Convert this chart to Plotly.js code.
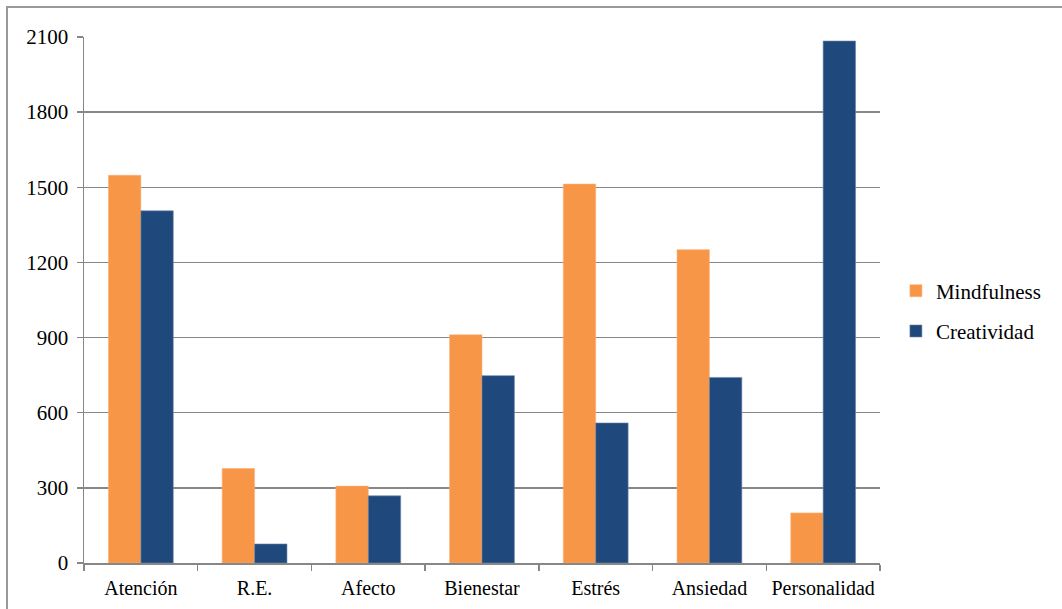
<!DOCTYPE html>
<html>
<head>
<meta charset="utf-8">
<script src="https://cdn.plot.ly/plotly-3.0.1.min.js"></script>
<style>
html,body{margin:0;padding:0;background:#fff;overflow:hidden;}
#chart{width:1062px;height:609px;}
#frame{position:absolute;left:6px;top:6px;width:2000px;height:2000px;border-top:2px solid #9a9a9a;border-left:2px solid #9a9a9a;pointer-events:none;}
</style>
</head>
<body>
<div id="chart"></div>
<div id="frame"></div>
<script>
const categories = ["Atención", "R.E.", "Afecto", "Bienestar", "Estrés", "Ansiedad", "Personalidad"];
const mindfulness = [1548, 377, 307, 911, 1513, 1251, 200];
const creatividad = [1406, 76, 268, 748, 559, 741, 2084];
const yTicks = [0, 300, 600, 900, 1200, 1500, 1800, 2100];

const font = {family: "Times New Roman", size: 20, color: "#000"};
const fontBig = {family: "Times New Roman", size: 21, color: "#000"};

const traces = [
  {type: "bar", name: "Mindfulness", x: categories, y: mindfulness, legendgroup: "a",
   marker: {color: "#F79646", line: {color: "#FAB27E", width: 0.6}}},
  {type: "bar", name: "Creatividad", x: categories, y: creatividad, legendgroup: "b",
   marker: {color: "#1F497D", line: {color: "#6E86A8", width: 0.6}}}
];

const layout = {
  width: 1062, height: 609,
  margin: {l: 84, r: 182, t: 37, b: 46, pad: 0},
  paper_bgcolor: "#fff", plot_bgcolor: "#fff",
  font: font,
  barmode: "group", bargap: 0.43, bargroupgap: 0,
  showlegend: true,
  legend: {x: 1.02, xanchor: "left", y: 0.479, yanchor: "middle",
           traceorder: "grouped", tracegroupgap: 10, font: fontBig, bgcolor: "rgba(0,0,0,0)"},
  xaxis: {type: "category", showgrid: false, showline: true, linecolor: "#878787", linewidth: 1.5,
          ticks: "outside", tickson: "boundaries", ticklen: 6, tickcolor: "#878787", tickwidth: 1.5,
          ticklabelstandoff: 6, tickfont: font, zeroline: false, fixedrange: true},
  yaxis: {range: [0, 2100], tickvals: yTicks, ticktext: yTicks.map(String),
          showgrid: true, gridcolor: "#878787", gridwidth: 1.5,
          showline: true, linecolor: "#878787", linewidth: 1.5,
          ticks: "outside", ticklen: 6, tickcolor: "#878787", tickwidth: 1.5,
          ticklabelstandoff: 4, tickfont: fontBig, zeroline: false, fixedrange: true}
};

Plotly.newPlot("chart", traces, layout, {staticPlot: true, displayModeBar: false});
</script>
</body>
</html>
